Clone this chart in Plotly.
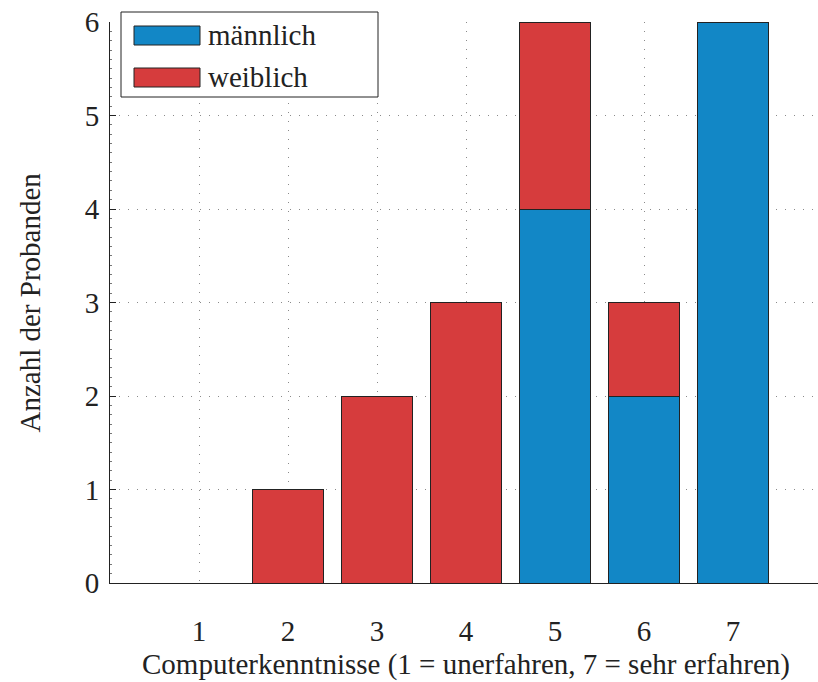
import plotly.graph_objects as go

# Survey: self-rated computer skills, split by gender
kenntnisse = [1, 2, 3, 4, 5, 6, 7]
maennlich = [0, 0, 0, 0, 4, 2, 6]
weiblich = [0, 1, 2, 3, 2, 1, 0]
serien = ["männlich", "weiblich"]
farben = ["#1287C6", "#D63C3D"]

FONT = "Liberation Serif"
FS = 29
W, H = 818, 682
ML, MR, MT, MB = 110, 0, 22, 99
PW, PH = W - ML - MR, H - MT - MB


def px_x(px):
    return (px - ML) / PW


def px_y(py):
    return (H - MB - py) / PH


fig = go.Figure()
for name, werte, farbe in zip(serien, [maennlich, weiblich], farben):
    fig.add_trace(go.Bar(
        x=kenntnisse, y=werte, name=name, width=0.8,
        marker=dict(color=farbe, line=dict(color="#222222", width=1)),
        showlegend=False,
    ))

GRID = dict(showgrid=True, gridcolor="#8a8a8a", griddash="1px,8px", gridwidth=1)

fig.update_layout(
    width=W, height=H, barmode="stack",
    margin=dict(l=ML, r=MR, t=MT, b=MB, pad=0),
    paper_bgcolor="white", plot_bgcolor="white",
    font=dict(family=FONT, size=FS, color="#222222"),
)
fig.update_xaxes(
    range=[0, 7.955], tickvals=kenntnisse, ticks="",
    showline=True, linecolor="#222222", linewidth=1,
    zeroline=False, ticklabelstandoff=22, **GRID,
)
fig.update_yaxes(
    range=[0, 6], tickvals=[0, 1, 2, 3, 4, 5, 6], ticks="inside", ticklen=6,
    tickcolor="#222222", showline=True, linecolor="#222222", linewidth=1,
    zeroline=False, ticklabelstandoff=4, **GRID,
    minor=dict(dtick=0.1, ticks="inside", ticklen=2, tickcolor="#777777"),
)

# axis titles
fig.add_annotation(
    text="Computerkenntnisse (1 = unerfahren, 7 = sehr erfahren)",
    xref="x", yref="paper", x=4, y=px_y(664), xanchor="center", yanchor="middle",
    showarrow=False, font=dict(family=FONT, size=FS, color="#222222"),
)
fig.add_annotation(
    text="Anzahl der Probanden", textangle=-90,
    xref="paper", yref="paper", x=px_x(29), y=0.5, xanchor="center", yanchor="middle",
    showarrow=False, font=dict(family=FONT, size=FS, color="#222222"),
)

# legend box with wide colour swatches
fig.add_shape(type="rect", xref="paper", yref="paper",
              x0=px_x(121), x1=px_x(378), y0=px_y(97), y1=px_y(12),
              line=dict(color="#222222", width=1), fillcolor="white", layer="above")
for i, (name, farbe) in enumerate(zip(serien, farben)):
    top, bot = 26 + 42 * i, 45 + 42 * i
    fig.add_shape(type="rect", xref="paper", yref="paper",
                  x0=px_x(134), x1=px_x(200), y0=px_y(bot), y1=px_y(top),
                  line=dict(color="#222222", width=1), fillcolor=farbe, layer="above")
    fig.add_annotation(text=name, xref="paper", yref="paper",
                       x=px_x(206), y=px_y((top + bot) / 2),
                       xanchor="left", yanchor="middle", showarrow=False,
                       font=dict(family=FONT, size=FS, color="#222222"))

fig.write_html("out.html")
